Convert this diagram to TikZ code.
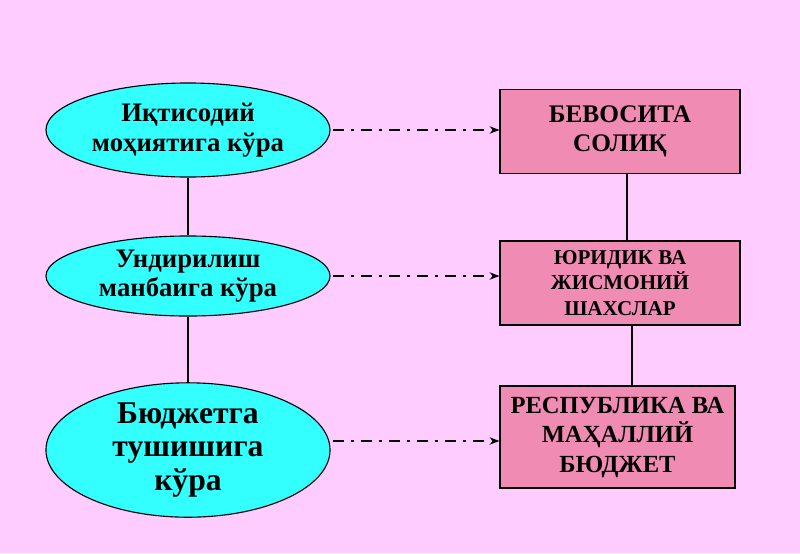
\documentclass[tikz,border=0pt]{standalone}
\usepackage{fontspec}
\setmainfont{Liberation Serif}
\usetikzlibrary{arrows.meta,shapes.geometric}
\definecolor{bgpink}{RGB}{255,204,255}
\definecolor{ellcyan}{RGB}{51,255,255}
\definecolor{boxpink}{RGB}{240,140,180}
\begin{document}
\begin{tikzpicture}[x=0.025cm,y=-0.025cm]
		\tikzstyle{crit}=[draw,thick,shape=ellipse,fill=ellcyan,minimum width=7.1cm,inner sep=0pt,align=center]
		\tikzstyle{res}=[draw,thick,shape=rectangle,fill=boxpink,minimum width=6cm,align=center]
		\tikzstyle{link}=[thick,dash pattern=on 8pt off 5pt on 2pt off 5pt,-{Stealth[length=7pt]}]

		\fill[bgpink] (0,0) rectangle (800,553);

		\node[crit,minimum height=2.35cm,font=\bfseries\fontsize{19}{21}\selectfont](e1) at (188,130){Иқтисодий\\моҳиятига кўра};
		\node[crit,minimum height=2cm,font=\bfseries\fontsize{19}{21}\selectfont](e2) at (188,276){Ундирилиш\\манбаига кўра};
		\node[crit,minimum height=2.75cm,font=\bfseries\fontsize{22.5}{24}\selectfont](e3) at (188,450){Бюджетга\\тушишига\\кўра};

		\node[res,minimum height=2.08cm,font=\bfseries\fontsize{18}{21}\selectfont](b1) at (620,131.5){БЕВОСИТА\\СОЛИҚ};
		\node[res,minimum height=2.1cm,font=\bfseries\fontsize{15}{18}\selectfont](b2) at (620,283){ЮРИДИК ВА\\ЖИСМОНИЙ\\ШАХСЛАР};
		\node[res,minimum width=5.875cm,minimum height=2.55cm,font=\bfseries\fontsize{17.5}{21}\selectfont](b3) at (617.5,437){РЕСПУБЛИКА ВА\\МАҲАЛЛИЙ\\БЮДЖЕТ};

		\draw[thick] (e1) -- (e2);
		\draw[thick] (e2) -- (e3);
		\draw[thick] (b1.south) ++(7,0) coordinate (b1s) (b1s) -- (b1s |- b2.north);
		\draw[thick] (b2.south) ++(12,0) coordinate (b2s) (b2s) -- (b2s |- b3.north);

		\draw[link] (e1.east) ++(2,0) coordinate (a1) (a1) -- (a1 -| b1.west);
		\draw[link] (e2.east) ++(2,0) coordinate (a2) (a2) -- (a2 -| b2.west);
		\draw[link] (e3.east) ++(2,-9) coordinate (a3) (a3) -- (a3 -| b3.west);
	\end{tikzpicture}
\end{document}
